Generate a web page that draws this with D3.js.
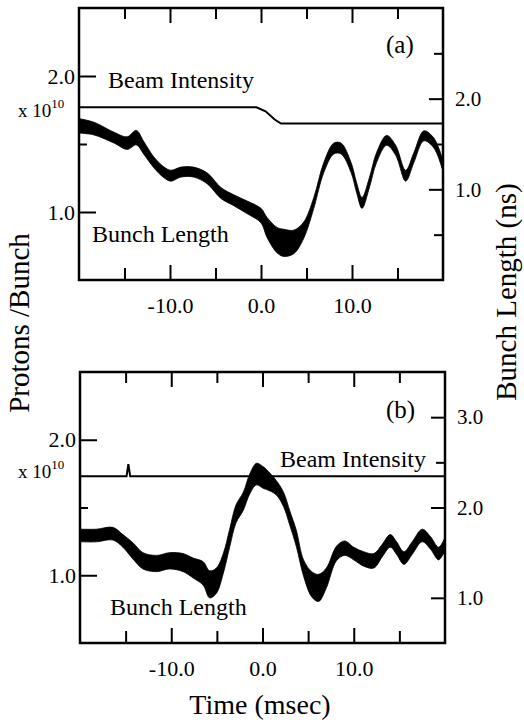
<!DOCTYPE html>
<html>
<head>
<meta charset="utf-8">
<script src="https://cdn.jsdelivr.net/npm/d3@7"></script>
<style>
  body { margin: 0; background: #fff; }
  svg { display: block; }
  text { font-family: "Liberation Serif", "Times New Roman", serif; fill: #000; }
</style>
</head>
<body>
<div id="chart"></div>
<script>
// time axis (msec)
var timeMajor = [-10, 0, 10];
var timeMinor = [-15, -5, 5, 15];
var protonMajor = [1.0, 2.0];
var protonMinor = [1.5];

// panel (a)
var beamTimesA = [-20, -0.5, 0.5, 1.5, 2.2, 20];
var beamA = [1.77, 1.77, 1.74, 1.68, 1.65, 1.65];
var timesA = [-20, -18.35, -16.15, -14.7, -13.7, -12.9, -11.8, -10.7, -9.9, -8.8, -7.4, -5.9,
  -4.4, -3.0, -1.5, 0, 0.66, 1.76, 2.5, 3.6, 4.7, 5.8, 6.9, 8.0, 8.8, 9.9, 10.5, 11.1,
  11.9, 12.7, 13.8, 14.8, 15.9, 16.8, 17.9, 19.0, 19.9];
var bunchA = [1.70, 1.67, 1.57, 1.51, 1.57, 1.46, 1.30, 1.19, 1.15, 1.19, 1.19, 1.12,
  0.96, 0.88, 0.80, 0.71, 0.58, 0.44, 0.41, 0.42, 0.55, 0.85, 1.24, 1.45, 1.45, 1.24, 1.02, 0.85,
  1.07, 1.35, 1.54, 1.43, 1.15, 1.35, 1.59, 1.51, 1.29];
var spreadA = [0.08, 0.07, 0.06, 0.07, 0.08, 0.07, 0.06, 0.06, 0.06, 0.055, 0.055, 0.06,
  0.06, 0.06, 0.07, 0.08, 0.11, 0.14, 0.15, 0.13, 0.09, 0.06, 0.055, 0.06, 0.06, 0.055, 0.055, 0.06,
  0.055, 0.055, 0.055, 0.055, 0.06, 0.055, 0.055, 0.055, 0.06];
var nsMajorA = [1.0, 2.0];
var nsMinorA = [0.5, 1.5, 2.5];

// panel (b)
var beamTimesB = [-20, -14.9, -14.7, -14.5, 20];
var beamB = [1.73, 1.73, 1.82, 1.73, 1.73];
var timesB = [-19.9, -18.2, -16.4, -15.3, -14.2, -13.1, -11.6, -10.2, -8.7, -7.6, -6.5, -5.8,
  -5.05, -4.3, -3.6, -2.9, -2.1, -1.4, -0.66, 0.1, 0.44, 1.5, 2.3, 3.0, 3.7, 4.5, 5.4, 6.15,
  7.0, 8.1, 9.0, 10.0, 11.1, 12.2, 13.1, 14.0, 14.7, 15.5, 16.4, 17.5, 18.4, 19.3, 20.0];
var bunchB = [1.69, 1.69, 1.71, 1.63, 1.52, 1.41, 1.38, 1.41, 1.39, 1.33, 1.27, 1.15,
  1.19, 1.38, 1.66, 1.93, 2.07, 2.26, 2.37, 2.33, 2.31, 2.22, 2.09, 1.88, 1.66, 1.33, 1.15, 1.11,
  1.22, 1.49, 1.55, 1.49, 1.43, 1.41, 1.52, 1.63, 1.55, 1.44, 1.55, 1.69, 1.61, 1.49, 1.60];
var spreadB = [0.07, 0.07, 0.07, 0.07, 0.09, 0.09, 0.09, 0.09, 0.10, 0.11, 0.13, 0.15,
  0.14, 0.11, 0.10, 0.10, 0.10, 0.11, 0.12, 0.12, 0.11, 0.08, 0.08, 0.08, 0.09, 0.09, 0.14, 0.15,
  0.11, 0.08, 0.08, 0.07, 0.08, 0.08, 0.07, 0.07, 0.07, 0.07, 0.07, 0.07, 0.07, 0.07, 0.07];
var nsMajorB = [1.0, 2.0, 3.0];
var nsMinorB = [1.5, 2.5];

var width = 524;
var height = 725;

var svg = d3.select("#chart").append("svg")
  .attr("width", width)
  .attr("height", height);

// plain hyphen for negatives, as in the original figure
function fmt(d) { return d3.format(".1f")(d).replace("\u2212", "-"); }

function drawPanel(p) {
  var g = svg.append("g");
  var x = d3.scaleLinear().domain([-20, 20]).range([p.left, p.right]);
  var yL = d3.scaleLinear().domain([0.5, 2.5]).range([p.bottom, p.top]);
  var yR = d3.scaleLinear().domain(p.nsDomain).range([p.bottom, p.top]);

  var clipId = "clip" + p.id;
  svg.append("clipPath").attr("id", clipId).append("rect")
    .attr("x", p.left).attr("y", p.top)
    .attr("width", p.right - p.left).attr("height", p.bottom - p.top);

  var plot = g.append("g").attr("clip-path", "url(#" + clipId + ")");

  // bunch length band (ns, right axis)
  var rows = p.times.map(function(t, i) {
    return { t: t, v: p.bunch[i], s: p.spread[i] };
  });
  var band = d3.area()
    .x(function(d) { return x(d.t); })
    .y0(function(d) { return yR(d.v - d.s); })
    .y1(function(d) { return yR(d.v + d.s); })
    .curve(d3.curveCatmullRom);
  plot.append("path").attr("d", band(rows))
    .attr("fill", "#000").attr("stroke", "#000").attr("stroke-width", 0.8);

  // beam intensity (left axis)
  var beamRows = p.beamTimes.map(function(t, i) { return { t: t, v: p.beam[i] }; });
  var line = d3.line()
    .x(function(d) { return x(d.t); })
    .y(function(d) { return yL(d.v); });
  plot.append("path").attr("d", line(beamRows))
    .attr("fill", "none").attr("stroke", "#000").attr("stroke-width", 2);

  // axes, ticks pointing inward
  function styleAxis(sel, size) {
    sel.select(".domain").remove();
    sel.selectAll("line").attr("stroke", "#000").attr("stroke-width", 2);
    sel.selectAll("text").style("font-size", size + "px")
      .style("font-family", "Liberation Serif");
  }

  var bottomMaj = g.append("g").attr("transform", "translate(0," + p.bottom + ")")
    .call(d3.axisBottom(x).tickValues(timeMajor).tickSize(-15).tickPadding(17).tickFormat(fmt));
  styleAxis(bottomMaj, 22);
  var bottomMin = g.append("g").attr("transform", "translate(0," + p.bottom + ")")
    .call(d3.axisBottom(x).tickValues(timeMinor).tickSize(-12).tickFormat(""));
  styleAxis(bottomMin, 22);
  var topMaj = g.append("g").attr("transform", "translate(0," + p.top + ")")
    .call(d3.axisTop(x).tickValues(timeMajor).tickSize(-15).tickFormat(""));
  styleAxis(topMaj, 22);
  var topMin = g.append("g").attr("transform", "translate(0," + p.top + ")")
    .call(d3.axisTop(x).tickValues(timeMinor).tickSize(-11).tickFormat(""));
  styleAxis(topMin, 22);

  var leftMaj = g.append("g").attr("transform", "translate(" + p.left + ",0)")
    .call(d3.axisLeft(yL).tickValues(protonMajor).tickSize(-17).tickPadding(4).tickFormat(fmt));
  styleAxis(leftMaj, 22);
  var leftMin = g.append("g").attr("transform", "translate(" + p.left + ",0)")
    .call(d3.axisLeft(yL).tickValues(protonMinor).tickSize(-8).tickFormat(""));
  styleAxis(leftMin, 22);

  var rightMaj = g.append("g").attr("transform", "translate(" + p.right + ",0)")
    .call(d3.axisRight(yR).tickValues(p.nsMajor).tickSize(-14).tickPadding(12).tickFormat(fmt));
  styleAxis(rightMaj, 21);
  var rightMin = g.append("g").attr("transform", "translate(" + p.right + ",0)")
    .call(d3.axisRight(yR).tickValues(p.nsMinor).tickSize(-9).tickFormat(""));
  styleAxis(rightMin, 21);

  // frame
  g.append("rect")
    .attr("x", p.left).attr("y", p.top)
    .attr("width", p.right - p.left).attr("height", p.bottom - p.top)
    .attr("fill", "none").attr("stroke", "#000").attr("stroke-width", 2.5);

  // annotations
  g.append("text").attr("x", 386).attr("y", p.tagY).style("font-size", "25px").text(p.tag);
  g.append("text").attr("x", p.beamLabel[0]).attr("y", p.beamLabel[1])
    .style("font-size", "24px").text("Beam Intensity");
  g.append("text").attr("x", p.bunchLabel[0]).attr("y", p.bunchLabel[1])
    .style("font-size", "24px").text("Bunch Length");
  var sci = g.append("text").attr("x", 18).attr("y", p.sciY).style("font-size", "19px");
  sci.append("tspan").text("x 10");
  sci.append("tspan").attr("dy", -9).style("font-size", "13px").text("10");
}

drawPanel({
  id: "a", left: 79, right: 443, top: 8, bottom: 280,
  nsDomain: [0, 3], nsMajor: nsMajorA, nsMinor: nsMinorA,
  times: timesA, bunch: bunchA, spread: spreadA,
  beamTimes: beamTimesA, beam: beamA,
  tag: "(a)", tagY: 53, beamLabel: [108, 88], bunchLabel: [92, 242], sciY: 117
});

drawPanel({
  id: "b", left: 80, right: 445, top: 372, bottom: 643,
  nsDomain: [0.5, 3.5], nsMajor: nsMajorB, nsMinor: nsMinorB,
  times: timesB, bunch: bunchB, spread: spreadB,
  beamTimes: beamTimesB, beam: beamB,
  tag: "(b)", tagY: 418, beamLabel: [280, 467], bunchLabel: [110, 615], sciY: 478
});

// axis titles
svg.append("text")
  .attr("transform", "translate(29,323) rotate(-90)")
  .attr("text-anchor", "middle")
  .style("font-size", "29px")
  .text("Protons /Bunch");

svg.append("text")
  .attr("transform", "translate(516,292) rotate(-90)")
  .attr("text-anchor", "middle")
  .style("font-size", "29px")
  .text("Bunch Length (ns)");

svg.append("text")
  .attr("x", 260).attr("y", 714)
  .attr("text-anchor", "middle")
  .style("font-size", "28px")
  .text("Time (msec)");
</script>
</body>
</html>
